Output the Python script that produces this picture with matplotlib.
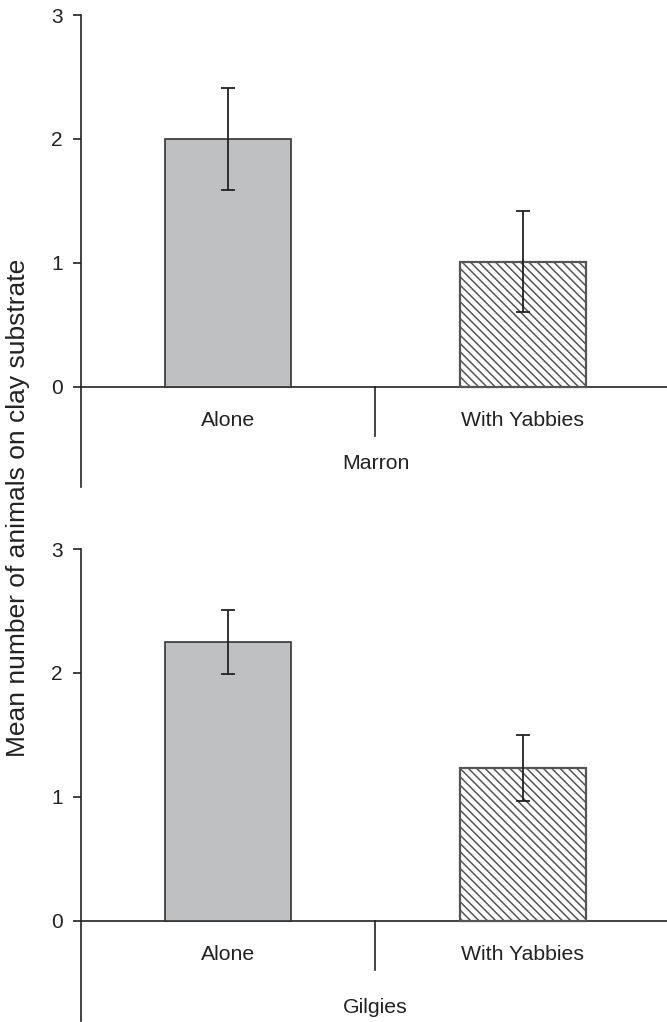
import matplotlib.pyplot as plt

plt.rcParams['font.family'] = ['Liberation Sans', 'DejaVu Sans']
plt.rcParams['hatch.linewidth'] = 1.1

# data
groups = ['Marron', 'Gilgies']
categories = ['Alone', 'With Yabbies']
means = {'Marron': [2.00, 1.01], 'Gilgies': [2.25, 1.23]}
errors = {'Marron': [0.41, 0.41], 'Gilgies': [0.26, 0.265]}
ylabel = 'Mean number of animals on clay substrate'
yticks = [0, 1, 2, 3]

fig = plt.figure(figsize=(6.67, 10.22), dpi=100)
axes_pos = [[0.1214, 0.5235, 0.8786, 0.4618],
            [0.1214, 0.0010, 0.8786, 0.4618]]
group_label_y = [-0.62, -0.70]

line_col = '#222222'
for g, pos, gy in zip(groups, axes_pos, group_label_y):
    ax = fig.add_axes(pos)
    x = [0, 1]
    ax.bar(x[0], means[g][0], width=0.428, color='#bfc0c2',
           edgecolor='#333333', linewidth=1.2, zorder=2)
    ax.bar(x[1], means[g][1], width=0.428, color='white',
           edgecolor='#555555', linewidth=1.6, hatch='\\\\\\\\', zorder=2)
    ax.errorbar(x, means[g], yerr=errors[g], fmt='none', ecolor=line_col,
                elinewidth=1.3, capsize=5, capthick=1.3, zorder=3)
    ax.set_xlim(-0.5, 1.49)
    ax.set_ylim(-0.81, 3)
    ax.axhline(0, color=line_col, linewidth=1.2, zorder=1)
    ax.plot([0.5, 0.5], [0, -0.395], color=line_col, linewidth=1.2)
    for xi, c in zip(x, categories):
        ax.text(xi, -0.27, c, ha='center', va='center', fontsize=15.3, color='#222222')
    ax.text(0.5, gy, g, ha='center', va='center', fontsize=15.3, color='#222222')
    for s in ['top', 'right', 'bottom']:
        ax.spines[s].set_visible(False)
    ax.spines['left'].set_color(line_col)
    ax.spines['left'].set_linewidth(1.2)
    ax.set_xticks([])
    ax.set_yticks(yticks)
    ax.tick_params(axis='y', length=6, width=1.2, color=line_col,
                   labelsize=15, labelcolor='#222222', pad=7)

fig.text(0.027, 0.503, ylabel, rotation=90, ha='center', va='center',
         fontsize=19, color='#222222')

fig.savefig('out.png', dpi=100)
